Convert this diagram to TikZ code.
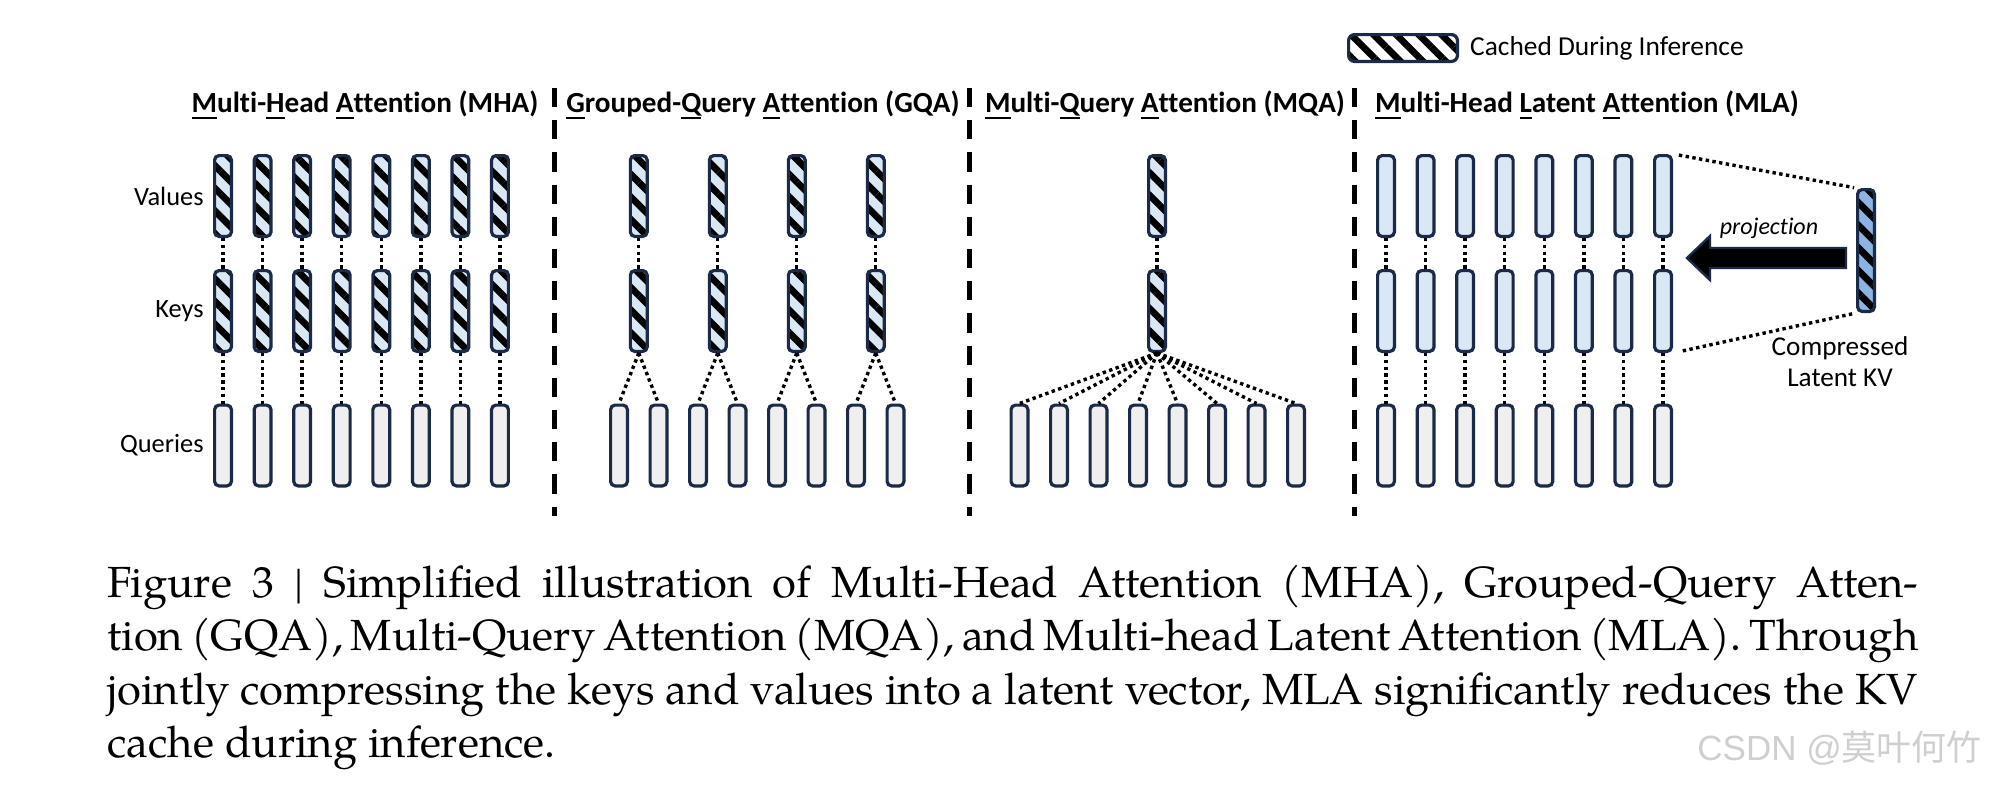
\documentclass[tikz,border=0pt]{standalone}
\usepackage{fontspec}
\setmainfont{Carlito}[Ligatures={NoCommon}]
\newfontfamily\capfont{TeX Gyre Pagella}
\newfontfamily\wmfont{Liberation Sans}
\newfontfamily\cjkfont{Noto Sans CJK SC}
\usetikzlibrary{patterns.meta}
\definecolor{navy}{HTML}{1B2A47}
\definecolor{kvblue}{HTML}{DAE7F5}
\definecolor{qgray}{HTML}{EFEFEF}
\definecolor{latblue}{HTML}{8DB3E2}
\definecolor{wmgray}{HTML}{CFCFCF}
\newcommand\ulc[1]{\setbox0=\hbox{#1}\rlap{\rule[-3.6pt]{\wd0}{1pt}}\box0}
\begin{document}
\begin{tikzpicture}[x=0.5pt,y=-0.5pt,
  bar/.style={draw=navy,line width=1.6pt,rounded corners=2.2pt,minimum width=8.4pt,minimum height=40.4pt,inner sep=0pt},
  kv/.style={bar,fill=kvblue},
  qbar/.style={bar,fill=qgray},
  hatch/.style={pattern={Lines[angle=-45,distance=8pt,line width=3.4pt]},pattern color=black},
  cached/.style={bar,preaction={fill=kvblue},hatch},
  latent/.style={bar,minimum height=60.9pt,preaction={fill=latblue},hatch},
  dots/.style={line width=1.7pt,dash pattern=on 1.7pt off 1.7pt},
  sepline/.style={line width=2.5pt,dash pattern=on 9.6pt off 6.5pt},
  title/.style={font=\fontsize{14.6pt}{17pt}\selectfont\bfseries,anchor=base,inner sep=0pt},
  rowlabel/.style={font=\fontsize{13.2pt}{16pt}\selectfont,anchor=east,inner sep=0pt},
  capline/.style={font=\capfont\fontsize{21.8pt}{26.5pt}\selectfont,anchor=base west,inner sep=0pt},
]
\fill[white] (0,0) rectangle (1996,788);
\useasboundingbox (0,0) rectangle (1996,788);

% legend
\node[draw=navy,line width=1.6pt,rounded corners=3pt,minimum width=54.4pt,minimum height=13.4pt,inner sep=0pt,preaction={fill=white},hatch] (leg) at (1403,48) {};
\node[anchor=west,inner sep=0pt,font=\fontsize{13.7pt}{16pt}\selectfont] (legtxt) at ([xshift=4.5pt]leg.east) {Cached During Inference};

% titles
\node[title] (tmha) at (365,112) {\ulc{M}ulti-\ulc{H}ead \ulc{A}ttention (MHA)};
\node[title] (tgqa) at (763,112) {\ulc{G}rouped-\ulc{Q}uery \ulc{A}ttention (GQA)};
\node[title] (tmqa) at (1165,112) {\ulc{M}ulti-\ulc{Q}uery \ulc{A}ttention (MQA)};
\node[title] (tmla) at (1587,112) {\ulc{M}ulti-Head \ulc{L}atent \ulc{A}ttention (MLA)};

% row labels
\node[rowlabel] (lv) at (204,196) {Values};
\node[rowlabel] (lk) at (204,311) {Keys};
\node[rowlabel] (lq) at (204,445.5) {Queries};

% separators
\coordinate (s1a) at (554,88); \coordinate (s1b) at (554,516);
\coordinate (s2a) at (969,88); \coordinate (s2b) at (969,516);
\coordinate (s3a) at (1354,88); \coordinate (s3b) at (1354,516);
\draw[sepline] (s1a) -- (s1b);
\draw[sepline] (s2a) -- (s2b);
\draw[sepline] (s3a) -- (s3b);

% MHA
\foreach \i in {1,...,8} {
  \pgfmathsetmacro\xx{223+39.57*(\i-1)}
  \node[cached] (mhav\i) at (\xx,196) {};
  \node[cached] (mhak\i) at (\xx,311) {};
  \node[qbar] (mhaq\i) at (\xx,445.5) {};
  \draw[dots] (mhav\i.south) -- (mhak\i.north);
  \draw[dots] (mhak\i.south) -- (mhaq\i.north);
}

% GQA
\foreach \i in {1,...,8} {
  \pgfmathsetmacro\xx{619+39.5*(\i-1)}
  \node[qbar] (gqaq\i) at (\xx,445.5) {};
}
\foreach \g/\a/\b in {1/1/2,2/3/4,3/5/6,4/7/8} {
  \pgfmathsetmacro\xx{638.75+79*(\g-1)}
  \node[cached] (gqav\g) at (\xx,196) {};
  \node[cached] (gqak\g) at (\xx,311) {};
  \draw[dots] (gqav\g.south) -- (gqak\g.north);
  \draw[dots] (gqak\g.south) -- (gqaq\a.north);
  \draw[dots] (gqak\g.south) -- (gqaq\b.north);
}

% MQA
\node[cached] (mqav) at (1157,196) {};
\node[cached] (mqak) at (1157,311) {};
\draw[dots] (mqav.south) -- (mqak.north);
\foreach \i in {1,...,8} {
  \pgfmathsetmacro\xx{1019.5+39.5*(\i-1)}
  \node[qbar] (mqaq\i) at (\xx,445.5) {};
  \draw[dots] (mqak.south) -- (mqaq\i.north);
}

% MLA
\foreach \i in {1,...,8} {
  \pgfmathsetmacro\xx{1386+39.57*(\i-1)}
  \node[kv] (mlav\i) at (\xx,196) {};
  \node[kv] (mlak\i) at (\xx,311) {};
  \node[qbar] (mlaq\i) at (\xx,445.5) {};
  \draw[dots] (mlav\i.south) -- (mlak\i.north);
  \draw[dots] (mlak\i.south) -- (mlaq\i.north);
}
\node[latent] (lat) at (1866,250.5) {};
\draw[dots,shorten <=3pt,shorten >=1pt] (mlav8.north east) -- (lat.north west);
\draw[dots,shorten <=5pt,shorten >=2pt] (mlak8.south east) -- (lat.south west);
\filldraw[fill=black,draw=navy,line width=1.2pt,line join=miter]
  (1846,248) -- (1710,248) -- (1710,236) -- (1687,258) -- (1710,280) -- (1710,268) -- (1846,268) -- cycle;
\node[font=\fontsize{12pt}{14pt}\selectfont\itshape,inner sep=0pt] (proj) at (1769,228) {projection};
\node[align=center,inner sep=0pt,font=\fontsize{13.6pt}{15.5pt}\selectfont] (clkv) at (1840,362) {Compressed\\Latent KV};

% caption
\node[capline] (c1) at (107,597) {\makebox[905.5pt][s]{Figure 3 | Simplified illustration of Multi-Head Attention (MHA), Grouped-Query Atten-}};
\node[capline] (c2) at (107,650.5) {\makebox[905.5pt][s]{tion (GQA), Multi-Query Attention (MQA), and Multi-head Latent Attention (MLA). Through}};
\node[capline] (c3) at (107,704) {\makebox[905.5pt][s]{jointly compressing the keys and values into a latent vector, MLA significantly reduces the KV}};
\node[capline] (c4) at (107,757.5) {cache during inference.};

% watermark
\node[anchor=base west,inner sep=0pt,text=wmgray,font=\fontsize{17.5pt}{20pt}\selectfont] (wm) at (1697,760) {\wmfont CSDN @\cjkfont 莫叶何竹};
\end{tikzpicture}
\end{document}
